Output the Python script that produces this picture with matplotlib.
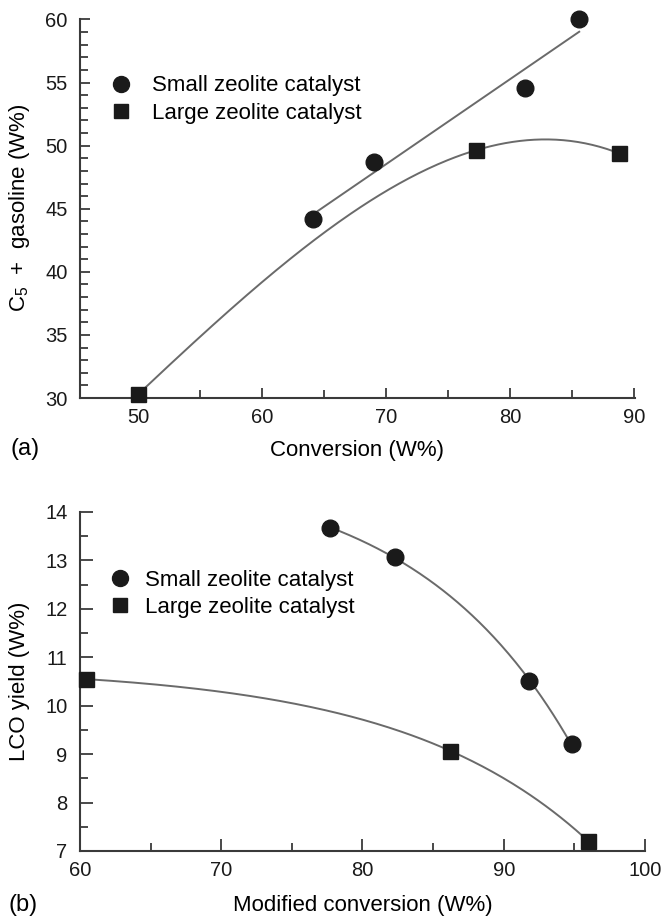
import numpy as np
import matplotlib
matplotlib.use('Agg')
from matplotlib import pyplot as plt
from matplotlib.ticker import MultipleLocator

plt.rcParams['font.family'] = ['Liberation Sans', 'DejaVu Sans']
plt.rcParams['mathtext.fontset'] = 'custom'
plt.rcParams['mathtext.rm'] = 'Liberation Sans'
plt.rcParams['mathtext.it'] = 'Liberation Sans'

# (a) gasoline vs conversion
a_small_x = [64.1, 69.0, 81.2, 85.6]
a_small_y = [44.2, 48.7, 54.6, 60.0]
a_large_x = [50.0, 77.3, 88.8]
a_large_y = [30.3, 49.65, 49.4]

# (b) LCO yield vs modified conversion
b_small_x = [77.7, 82.3, 91.8, 94.8]
b_small_y = [13.67, 13.07, 10.52, 9.2]
b_large_x = [60.4, 86.2, 96.0]
b_large_y = [10.55, 9.07, 7.2]

lbl_small = 'Small zeolite catalyst'
lbl_large = 'Large zeolite catalyst'

FS_TICK = 14.5
FS = 16
mk_col = '#1a1a1a'
ln_col = '#6a6a6a'
ax_col = '#3a3a3a'


def exp_fit(x, y):
    # y = a + b*exp(k*x), search k, solve a, b by least squares
    x = np.asarray(x, float)
    y = np.asarray(y, float)
    x0 = x.max()
    best = None
    for k in np.linspace(0.005, 0.4, 4000):
        A = np.column_stack([np.ones_like(x), np.exp(k * (x - x0))])
        coef, res, _, _ = np.linalg.lstsq(A, y, rcond=None)
        r = np.sum((A @ coef - y) ** 2)
        if best is None or r < best[0]:
            best = (r, k, coef)
    _, k, coef = best
    return lambda t: coef[0] + coef[1] * np.exp(k * (t - x0))


def style(ax, major_len):
    for s in ['top', 'right']:
        ax.spines[s].set_visible(False)
    for s in ['left', 'bottom']:
        ax.spines[s].set_color(ax_col)
        ax.spines[s].set_linewidth(1.5)
    ax.tick_params(which='both', direction='in', color=ax_col, width=1.3,
                   labelsize=FS_TICK, labelcolor='#1a1a1a')
    ax.tick_params(which='major', length=major_len)
    ax.tick_params(which='minor', length=5.5)
    ax.tick_params(axis='y', pad=9)
    ax.tick_params(axis='x', pad=7)


def add_legend(ax, anchor, hpad):
    hs = [ax.plot([], [], 'o', ms=11.5, color=mk_col)[0],
          ax.plot([], [], 's', ms=10, color=mk_col)[0]]
    ax.legend(hs, [lbl_small, lbl_large], loc='upper left', bbox_to_anchor=anchor,
              frameon=False, fontsize=FS, handletextpad=hpad, labelspacing=0.28,
              handlelength=1.0, borderaxespad=0)


fig = plt.figure(figsize=(6.71, 9.18), dpi=100)

# ---- panel (a) ----
ax1 = fig.add_axes([0.1192, 0.5664, 0.8271, 0.4124])
xs = np.linspace(min(a_small_x), max(a_small_x), 50)
p = np.polyfit(a_small_x, a_small_y, 1)
ax1.plot(xs, np.polyval(p, xs), color=ln_col, lw=1.4)
# smooth curve: quadratic in x**2
xl = np.linspace(min(a_large_x), max(a_large_x), 200)
p2 = np.polyfit(np.square(a_large_x), a_large_y, 2)
ax1.plot(xl, np.polyval(p2, xl ** 2), color=ln_col, lw=1.4)
ax1.plot(a_small_x, a_small_y, 'o', ms=12, color=mk_col, clip_on=False, zorder=5)
ax1.plot(a_large_x, a_large_y, 's', ms=10.8, color=mk_col, clip_on=False, zorder=5)
ax1.set_xlim(45.3, 90.1)
ax1.set_ylim(30, 60)
ax1.xaxis.set_major_locator(MultipleLocator(10))
ax1.xaxis.set_minor_locator(MultipleLocator(5))
ax1.yaxis.set_major_locator(MultipleLocator(5))
ax1.yaxis.set_minor_locator(MultipleLocator(1))
style(ax1, 7.5)
add_legend(ax1, (0.037, 0.876), 0.9)

fig.text(0.029, 1 - 208 / 918, 'C$_5$  +  gasoline (W%)', rotation=90,
         ha='center', va='center', fontsize=FS)
fig.text(0.532, 1 - 450 / 918, 'Conversion (W%)', ha='center', va='center', fontsize=FS)
fig.text(0.015, 1 - 449 / 918, '(a)', ha='left', va='center', fontsize=FS + 1)

# ---- panel (b) ----
ax2 = fig.add_axes([0.1192, 0.0730, 0.8420, 0.3693])
f_s = exp_fit(b_small_x, b_small_y)
xs = np.linspace(min(b_small_x), max(b_small_x), 200)
ax2.plot(xs, f_s(xs), color=ln_col, lw=1.4)
f_l = exp_fit(b_large_x, b_large_y)
xl = np.linspace(min(b_large_x), max(b_large_x), 200)
ax2.plot(xl, f_l(xl), color=ln_col, lw=1.4)
ax2.plot(b_small_x, b_small_y, 'o', ms=12, color=mk_col, clip_on=False, zorder=5)
ax2.plot(b_large_x, b_large_y, 's', ms=10.8, color=mk_col, clip_on=False, zorder=5)
ax2.set_xlim(60, 100)
ax2.set_ylim(7, 14)
ax2.xaxis.set_major_locator(MultipleLocator(10))
ax2.xaxis.set_minor_locator(MultipleLocator(5))
ax2.yaxis.set_major_locator(MultipleLocator(1))
ax2.yaxis.set_minor_locator(MultipleLocator(0.5))
style(ax2, 9)
add_legend(ax2, (0.0354, 0.855), 0.63)

fig.text(0.029, 1 - 681 / 918, 'LCO yield (W%)', rotation=90,
         ha='center', va='center', fontsize=FS)
fig.text(0.54, 1 - 906 / 918, 'Modified conversion (W%)', ha='center', va='center', fontsize=FS)
fig.text(0.012, 1 - 905 / 918, '(b)', ha='left', va='center', fontsize=FS + 1)

fig.savefig('out.png', dpi=100)
